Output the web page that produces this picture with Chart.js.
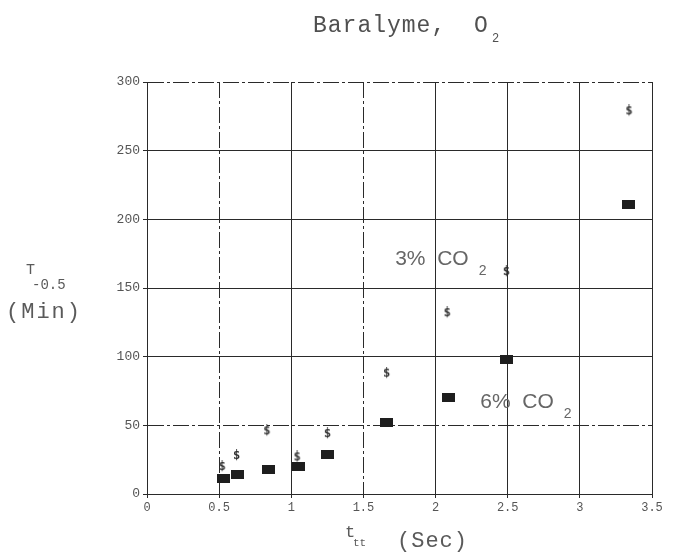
<!DOCTYPE html>
<html>
<head>
<meta charset="utf-8">
<script src="https://cdn.jsdelivr.net/npm/chart.js@4/dist/chart.umd.min.js"></script>
<style>
html, body { margin: 0; padding: 0; background: #fff; }
#wrap { width: 678px; height: 553px; }
</style>
</head>
<body>
<div id="wrap"><canvas id="chart" width="678" height="553"></canvas></div>
<script>
// 3% CO2 series ($ marks)
var co2_3_x = [0.52, 0.62, 0.83, 1.04, 1.25, 1.66, 2.08, 2.49, 3.34];
var co2_3_y = [20, 28, 46, 27, 44, 88, 132, 162, 279];
// 6% CO2 series (black blocks)
var co2_6_x = [0.53, 0.63, 0.84, 1.05, 1.25, 1.66, 2.09, 2.49, 3.34];
var co2_6_y = [11, 14.5, 18, 20, 29, 52, 70, 98, 211];
var xTicks = [0, 0.5, 1, 1.5, 2, 2.5, 3, 3.5];
var yTicks = [0, 50, 100, 150, 200, 250, 300];
var seriesNames = ['3%  CO', '6%  CO'];

var GRID = '#2a2a2a';
var TXT = '#555';
var MONO = '"Liberation Mono", "DejaVu Sans Mono", monospace';
var DASHDOT = [16, 3, 3, 3];

function toPoints(xs, ys) {
    return xs.map(function(x, i) { return { x: x, y: ys[i] }; });
}

function makeBlock(w, h) { // the filled rectangle marker
    var c = document.createElement('canvas');
    c.width = w; c.height = h;
    var g = c.getContext('2d');
    g.fillStyle = '#1e1e1e';
    g.fillRect(0, 0, w, h);
    return c;
}

function makeDollar() { // the small "$" marker
    var c = document.createElement('canvas');
    c.width = 9; c.height = 13;
    var g = c.getContext('2d');
    g.fillStyle = '#2e2e2e';
    g.font = 'bold 12px "DejaVu Sans Mono"';
    g.textAlign = 'center';
    g.textBaseline = 'middle';
    g.fillText('$', 4.5, 7);
    return c;
}

// some grid lines look dash-dotted in the scan
function gridDash(dashed) {
    return function(c) {
        if (!c.tick) return [];
        return dashed.indexOf(c.tick.value) >= 0 ? DASHDOT : [];
    };
}

// where the series names sit, in data units
var noteAt = [{ x: 1.72, y: 171 }, { x: 2.31, y: 67 }];

var textPlugin = {
    id: 'texts',
    afterDraw: function(chart) {
        var ctx = chart.ctx,
            xs = chart.scales.x,
            ys = chart.scales.y;
        ctx.save();
        ctx.fillStyle = '#505050';
        ctx.textBaseline = 'alphabetic';
        ctx.textAlign = 'left';
        // title
        ctx.font = '23px ' + MONO;
        ctx.letterSpacing = '1px';
        ctx.fillText('Baralyme,', 313, 32);
        ctx.fillText('O', 474, 32);
        ctx.font = '12px ' + MONO;
        ctx.letterSpacing = '0px';
        ctx.fillText('2', 492, 42);

        // y axis title
        ctx.fillStyle = '#5a5a5a';
        ctx.font = '15px ' + MONO;
        ctx.fillText('T', 26, 274);
        ctx.font = '14px ' + MONO;
        ctx.fillText('-0.5', 32, 289);
        ctx.font = '22px ' + MONO;
        ctx.letterSpacing = '2px';
        ctx.fillText('(Min)', 6, 318);

        // x axis title
        ctx.letterSpacing = '0px';
        ctx.font = '17px ' + MONO;
        ctx.fillText('t', 345, 537);
        ctx.font = '11px ' + MONO;
        ctx.fillText('tt', 353, 546);
        ctx.font = '22px ' + MONO;
        ctx.letterSpacing = '1px';
        ctx.fillText('(Sec)', 397, 547);

        // series labels
        ctx.letterSpacing = '0px';
        ctx.fillStyle = '#666';
        for (var i = 0; i < seriesNames.length; i++) {
            var px = xs.getPixelForValue(noteAt[i].x),
                py = ys.getPixelForValue(noteAt[i].y);
            ctx.font = '21px "Liberation Sans", Arial, sans-serif';
            ctx.textBaseline = 'middle';
            ctx.fillText(seriesNames[i], px, py);
            var w = ctx.measureText(seriesNames[i]).width;
            ctx.font = '14px "Liberation Sans", Arial, sans-serif';
            ctx.fillText('2', px + w + 10, py + 12);
        }
        ctx.restore();
    }
};

var ctx = document.getElementById('chart').getContext('2d');
var chart = new Chart(ctx, {
    type: 'scatter',
    data: {
        datasets: [{
            label: seriesNames[0],
            data: toPoints(co2_3_x, co2_3_y),
            pointStyle: makeDollar(),
            pointRadius: 5
        }, {
            label: seriesNames[1],
            data: toPoints(co2_6_x, co2_6_y),
            pointStyle: makeBlock(13, 9),
            pointRadius: 7
        }]
    },
    options: {
        responsive: false,
        animation: false,
        events: [],
        layout: { padding: { top: 82, right: 26, bottom: 0, left: 0 } },
        plugins: {
            legend: { display: false },
            tooltip: { enabled: false },
            title: { display: false }
        },
        scales: {
            x: {
                type: 'linear',
                min: 0,
                max: 3.5,
                afterBuildTicks: function(s) {
                    s.ticks = xTicks.map(function(v) { return { value: v }; });
                },
                afterFit: function(s) { s.height = 59; },
                ticks: {
                    color: TXT,
                    padding: 3,
                    maxRotation: 0,
                    font: { family: MONO, size: 12 },
                    callback: function(v) { return String(v); }
                },
                grid: { color: GRID, lineWidth: 1, tickLength: 4 },
                border: { color: GRID, width: 1, dash: gridDash([0.5, 1.5]) }
            },
            y: {
                min: 0,
                max: 300,
                afterBuildTicks: function(s) {
                    s.ticks = yTicks.map(function(v) { return { value: v }; });
                },
                afterFit: function(s) { s.width = 147; },
                ticks: {
                    color: TXT,
                    padding: 3,
                    font: { family: MONO, size: 13 }
                },
                grid: { color: GRID, lineWidth: 1, tickLength: 4 },
                border: { color: GRID, width: 1, dash: gridDash([50, 300]) }
            }
        }
    },
    plugins: [textPlugin]
});
</script>
</body>
</html>
